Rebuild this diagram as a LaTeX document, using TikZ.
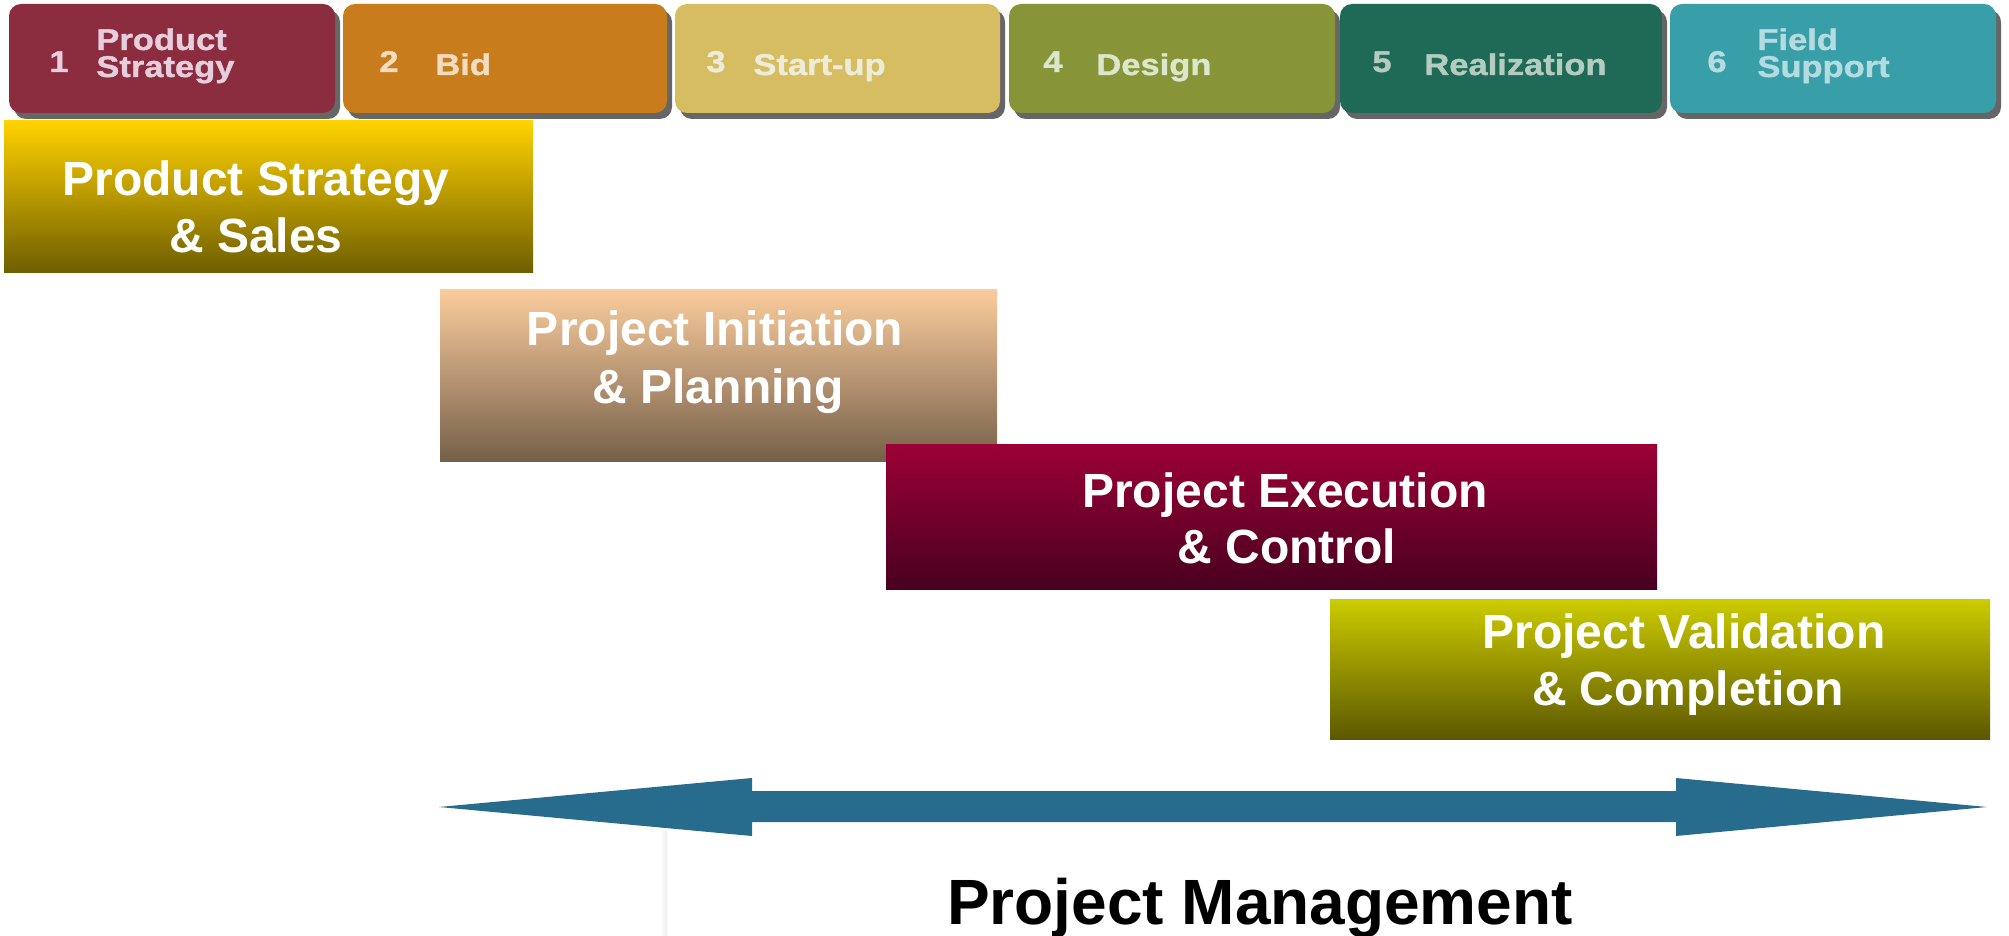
\documentclass[tikz,border=0pt]{standalone}
\usepackage{fontspec}
\setmainfont{Liberation Sans}
\newfontfamily\tabfont{Liberation Sans Bold}[FakeStretch=1.15, FakeBold=1.2]
\definecolor{tabA}{HTML}{8B2C3F}\definecolor{tabAt}{HTML}{E6CEDC}
\definecolor{tabB}{HTML}{C97C1B}\definecolor{tabBt}{HTML}{F2DCC0}
\definecolor{tabC}{HTML}{D7BD61}\definecolor{tabCt}{HTML}{ECECD8}
\definecolor{tabD}{HTML}{879538}\definecolor{tabDt}{HTML}{DCE6CC}
\definecolor{tabE}{HTML}{1F6957}\definecolor{tabEt}{HTML}{B4CCC0}
\definecolor{tabF}{HTML}{389FA8}\definecolor{tabFt}{HTML}{B4DCE0}
\definecolor{shad}{HTML}{666666}
\definecolor{arrowblue}{HTML}{276C8C}
\begin{document}
\begin{tikzpicture}[x=0.5pt,y=-0.5pt,
  tab/.style={rounded corners=6pt, minimum height=54.5pt, inner sep=0pt},
  tabshadow/.style={rounded corners=6pt, fill=shad, minimum height=54.5pt, inner sep=0pt},
  tabnum/.style={font=\tabfont\fontsize{15}{15}\selectfont, anchor=base west, inner sep=0pt},
  tabtxt/.style={font=\tabfont\fontsize{15}{15}\selectfont, anchor=base west, inner sep=0pt},
  phase/.style={inner sep=0pt},
  phasetxt/.style={font=\bfseries\fontsize{24}{24}\selectfont, text=white, anchor=base, inner sep=0pt}
]
\useasboundingbox (0,0) rectangle (2009,936);
% tab shadows
\foreach \cx/\w in {172/163, 505/162, 837.5/162.5, 1172/163, 1501/161, 1833/163}
  \node[tabshadow, minimum width=\w pt] at (\cx+5,64.5) {};
% tabs
\node[tab, fill=tabA, minimum width=163pt] (t1) at (172,58.5) {};
\node[tab, fill=tabB, minimum width=162pt] (t2) at (505,58.5) {};
\node[tab, fill=tabC, minimum width=162.5pt] (t3) at (837.5,58.5) {};
\node[tab, fill=tabD, minimum width=163pt] (t4) at (1172,58.5) {};
\node[tab, fill=tabE, minimum width=161pt] (t5) at (1501,58.5) {};
\node[tab, fill=tabF, minimum width=163pt] (t6) at (1833,58.5) {};
% tab texts
\node[tabnum, text=tabAt] (n1) at (49,72) {1};
\node[tabtxt, text=tabAt] (w1a) at (96,50) {Product};
\node[tabtxt, text=tabAt] (w1b) at (96,77) {Strategy};
\node[tabnum, text=tabBt] (n2) at (379,72) {2};
\node[tabtxt, text=tabBt] (w2) at (435,75) {Bid};
\node[tabnum, text=tabCt] (n3) at (706,72) {3};
\node[tabtxt, text=tabCt] (w3) at (753,75) {Start-up};
\node[tabnum, text=tabDt] (n4) at (1043,72) {4};
\node[tabtxt, text=tabDt] (w4) at (1096,75) {Design};
\node[tabnum, text=tabEt] (n5) at (1372,72) {5};
\node[tabtxt, text=tabEt] (w5) at (1424,75) {Realization};
\node[tabnum, text=tabFt] (n6) at (1707,72) {6};
\node[tabtxt, text=tabFt] (w6a) at (1757,50) {Field};
\node[tabtxt, text=tabFt] (w6b) at (1757,77) {Support};
% phase boxes
\node[phase, top color={rgb,255:red,255;green,210;blue,0}, bottom color={rgb,255:red,110;green,94;blue,0},
  minimum width=264.5pt, minimum height=76pt] (b1) at (268.5,197) {};
\node[phase, top color={rgb,255:red,250;green,204;blue,156}, bottom color={rgb,255:red,118;green,96;blue,74},
  minimum width=278.5pt, minimum height=85.5pt] (b2) at (718.5,375.5) {};
\node[phase, top color={rgb,255:red,156;green,0;blue,54}, bottom color={rgb,255:red,72;green,0;blue,32},
  minimum width=385.5pt, minimum height=72.5pt] (b3) at (1271.5,516.5) {};
\node[phase, top color={rgb,255:red,204;green,204;blue,0}, bottom color={rgb,255:red,92;green,88;blue,0},
  minimum width=330pt, minimum height=70pt] (b4) at (1660,669) {};
\node[phasetxt] (b1a) at (256,196) {Product Strategy};
\node[phasetxt] (b1b) at (256,253) {\& Sales};
\node[phasetxt] (b2a) at (715,346) {Project Initiation};
\node[phasetxt] (b2b) at (718,403) {\& Planning};
\node[phasetxt] (b3a) at (1285,507) {Project Execution};
\node[phasetxt] (b3b) at (1287,563) {\& Control};
\node[phasetxt] (b4a) at (1684,648) {Project Validation};
\node[phasetxt] (b4b) at (1688,705) {\& Completion};
% faint smudge
\shade[left color=white, right color=black!7] (660,830) rectangle (667,936);
% double arrow
\fill[arrowblue] (439,807) -- (752,778) -- (752,791) -- (1676,791) -- (1676,778) -- (1987,807)
  -- (1676,836) -- (1676,822) -- (752,822) -- (752,836) -- cycle;
\node[font=\bfseries\fontsize{32}{32}\selectfont, anchor=base, inner sep=0pt] (pm) at (1260,924) {Project Management};
\end{tikzpicture}
\end{document}
